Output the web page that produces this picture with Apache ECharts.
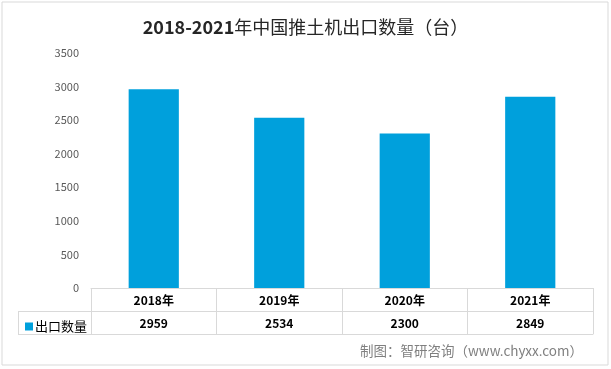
<!DOCTYPE html>
<html><head><meta charset="utf-8">
<script src="https://cdn.jsdelivr.net/npm/echarts@6/dist/echarts.min.js"></script>
<style>html,body{margin:0;padding:0;background:#fff}#c{width:611px;height:369px}</style>
</head><body><div id="c"></div>
<script>
const categories = ['2018年', '2019年', '2020年', '2021年'];
const values = [2959, 2534, 2300, 2849];
const seriesName = '出口数量';
const titleYears = '2018-2021';
const titleRest = '年中国推土机出口数量（台）';
const sourceText = '制图：智研咨询（www.chyxx.com）';

const GL = 91, GR = 18, GT = 53, GB = 81, ROW = 23, LEFTCELL = 18;
const W = 611, H = 369;
const baseY = H - GB;
const lineC = '#d9d9d9';
const font = '"Noto Sans CJK SC", "Noto Sans", sans-serif';

const chart = echarts.init(document.getElementById('c'));
chart.setOption({
  animation: false,
  textStyle: { fontFamily: font },
  title: { text: '{a|' + titleYears + '}{b|' + titleRest + '}', left: 'center', top: 13,
    textStyle: { rich: {
      a: { fontSize: 18, fontWeight: 'bold', color: '#262626', fontFamily: font },
      b: { fontSize: 18, fontWeight: 'normal', color: '#262626', fontFamily: font } } } },
  legend: { data: [seriesName], left: LEFTCELL + 2, top: baseY + ROW + 4, icon: 'rect',
    itemWidth: 8, itemHeight: 8, itemGap: 2,
    textStyle: { fontSize: 13, color: '#000', padding: [0, 0, 0, -3] } },
  grid: { left: GL, right: GR, top: GT, bottom: GB },
  yAxis: { type: 'value', min: 0, max: 3500, interval: 500,
    axisLine: { show: false }, axisTick: { show: false }, splitLine: { show: false },
    axisLabel: { color: '#595959', fontSize: 11, margin: 12, formatter: v => String(v) } },
  xAxis: [
    { type: 'category', data: categories, position: 'bottom',
      axisLine: { show: true, lineStyle: { color: lineC } },
      axisTick: { show: true, length: ROW * 2, lineStyle: { color: lineC } },
      axisLabel: { color: '#000', fontSize: 12, fontWeight: 'bold', margin: 6 } },
    { type: 'category', data: values.map(String), position: 'bottom', offset: ROW,
      axisLine: { show: true, lineStyle: { color: lineC } }, axisTick: { show: false },
      axisLabel: { color: '#000', fontSize: 12, fontWeight: 'bold', margin: 6 } },
    { type: 'category', data: values.map(String), position: 'bottom', offset: ROW * 2,
      axisLine: { show: true, lineStyle: { color: lineC } }, axisTick: { show: false },
      axisLabel: { show: false } }
  ],
  series: [{ name: seriesName, type: 'bar', data: values, xAxisIndex: 0,
    barWidth: '40%', itemStyle: { color: '#00A0DC' } }],
  graphic: [
    { type: 'rect', shape: { x: 2, y: 2, width: W - 5, height: H - 6 },
      style: { fill: 'none', stroke: lineC, lineWidth: 1 } },
    { type: 'line', shape: { x1: LEFTCELL, y1: baseY + ROW + 0.5, x2: GL, y2: baseY + ROW + 0.5 },
      style: { stroke: lineC, lineWidth: 1 } },
    { type: 'line', shape: { x1: LEFTCELL, y1: baseY + ROW * 2 + 0.5, x2: GL, y2: baseY + ROW * 2 + 0.5 },
      style: { stroke: lineC, lineWidth: 1 } },
    { type: 'line', shape: { x1: LEFTCELL + 0.5, y1: baseY + ROW, x2: LEFTCELL + 0.5, y2: baseY + ROW * 2 },
      style: { stroke: lineC, lineWidth: 1 } },
    { type: 'text', right: 28, top: 344,
      style: { text: sourceText, fontSize: 13.5, fill: '#7f7f7f', fontFamily: font } }
  ]
});
</script></body></html>
